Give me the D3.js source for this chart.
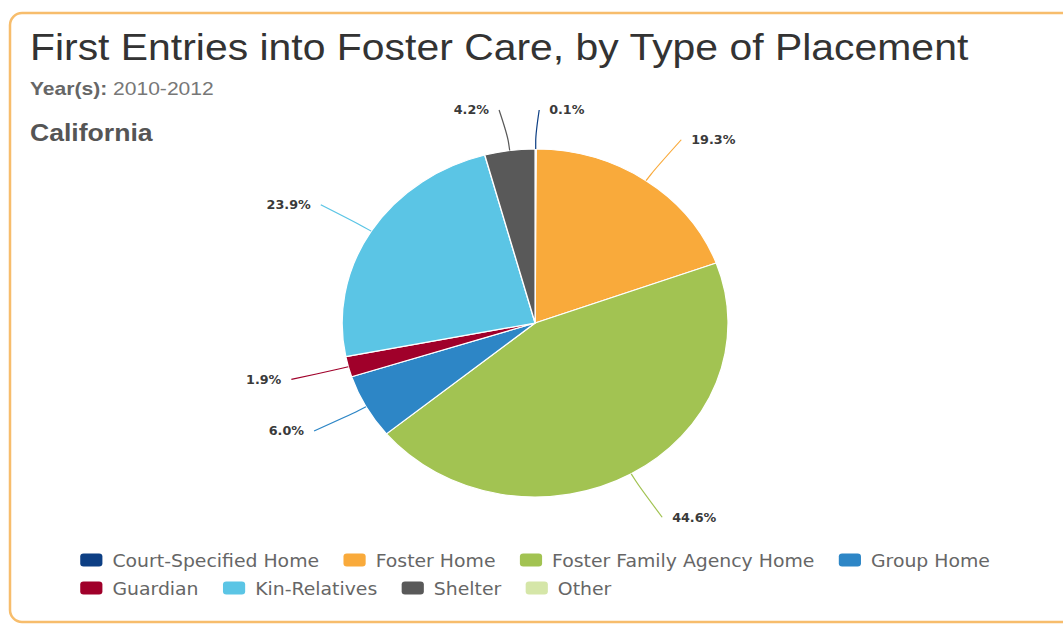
<!DOCTYPE html>
<html>
<head>
<meta charset="utf-8">
<script src="https://cdn.jsdelivr.net/npm/d3@7"></script>
<style>
  html, body { margin: 0; padding: 0; background: #fff; }
  svg { display: block; }
</style>
</head>
<body>
<svg id="chart" width="1063" height="627"></svg>
<script>
// Placement categories and their share of first entries (percent)
const categories = ["Court-Specified Home", "Foster Home", "Foster Family Agency Home", "Group Home",
                    "Guardian", "Kin-Relatives", "Shelter", "Other"];
const shares = [0.1, 19.3, 44.6, 6.0, 1.9, 23.9, 4.2, 0.0];
const colors = ["#0d3f84", "#f9aa3b", "#a2c352", "#2d86c6", "#a0002a", "#5bc5e5", "#595959", "#d5e6a8"];

const titleText = "First Entries into Foster Care, by Type of Placement";
const yearsLabel = "Year(s):";
const yearsValue = "2010-2012";
const regionName = "California";

const W = 1063, H = 627;
const stretch = 1.109;          // horizontal stretch applied to the whole drawing
const cx = 482.5, cy = 323, r = 174;

const svg = d3.select("#chart");

// panel frame
svg.append("rect")
  .attr("x", 10).attr("y", 13)
  .attr("width", 1080).attr("height", 609)
  .attr("rx", 12).attr("ry", 12)
  .attr("fill", "#fff")
  .attr("stroke", "#f7bd6c")
  .attr("stroke-width", 2.5);

const g = svg.append("g").attr("transform", `scale(${stretch},1)`);

// headings
g.append("text")
  .attr("x", 27).attr("y", 60)
  .attr("font-family", "Liberation Sans, Arial, sans-serif")
  .attr("font-size", 36.9)
  .attr("fill", "#333")
  .text(titleText);

const yr = g.append("text")
  .attr("x", 27).attr("y", 95)
  .attr("font-family", "Liberation Sans, Arial, sans-serif")
  .attr("font-size", 19);
yr.append("tspan").attr("font-weight", "bold").attr("fill", "#666").text(yearsLabel);
yr.append("tspan").attr("fill", "#777").text(" " + yearsValue);

g.append("text")
  .attr("x", 27).attr("y", 141)
  .attr("font-family", "Liberation Sans, Arial, sans-serif")
  .attr("font-size", 24)
  .attr("font-weight", "bold")
  .attr("fill", "#555")
  .text(regionName);

// pie
const data = categories.map((c, i) => ({ name: c, value: shares[i], color: colors[i] }));
const pie = d3.pie().sort(null).value(d => d.value).startAngle(0).endAngle(2 * Math.PI);
const arcs = pie(data);
const arc = d3.arc().innerRadius(0).outerRadius(r);

const pg = g.append("g").attr("transform", `translate(${cx},${cy})`);
pg.selectAll("path.slice")
  .data(arcs.filter(a => a.data.value > 0))
  .join("path")
  .attr("class", "slice")
  .attr("d", arc)
  .attr("fill", d => d.data.color)
  .attr("stroke", "#fff")
  .attr("stroke-width", 1.2)
  .attr("stroke-linejoin", "round");

// data labels with soft connectors
const labelRadius = 224, breakGap = 8, topLimit = 110;
const fmt = d3.format(".1f");
arcs.filter(a => a.data.value > 0).forEach(a => {
  const th = (a.startAngle + a.endAngle) / 2;
  const s = Math.sin(th), c = Math.cos(th);
  const edge = [cx + r * s, cy - r * c];
  const brk = [cx + (r + breakGap) * s, cy - (r + breakGap) * c];
  const ctrl = [2 * brk[0] - edge[0], 2 * brk[1] - edge[1]];
  const right = s >= 0;
  const lx = cx + labelRadius * s + (right ? 3 : -3);
  const ly = Math.max(topLimit, cy - labelRadius * c);
  g.append("path")
    .attr("d", `M${lx},${ly}C${lx},${ly} ${ctrl[0]},${ctrl[1]} ${brk[0]},${brk[1]}L${edge[0]},${edge[1]}`)
    .attr("fill", "none")
    .attr("stroke", a.data.color)
    .attr("stroke-width", 1.1);
  g.append("text")
    .attr("x", lx + (right ? 9 : -9))
    .attr("y", ly + 4.5)
    .attr("text-anchor", right ? "start" : "end")
    .attr("font-family", "DejaVu Sans, Verdana, sans-serif")
    .attr("font-size", 11.5)
    .attr("font-weight", "bold")
    .attr("fill", "#3a3a3a")
    .text(fmt(a.data.value) + "%");
});

// legend, flowed into rows and centred under the pie
const legFont = 17, symW = 20, symH = 13, symGap = 9, itemGap = 22, rowH = 28, maxRow = 900;
const lg = g.append("g");
const items = data.map(d => {
  const t = lg.append("text")
    .attr("font-family", "DejaVu Sans, Verdana, sans-serif")
    .attr("font-size", legFont)
    .attr("fill", "#666")
    .text(d.name);
  return { d, t, w: symW + symGap + t.node().getComputedTextLength() };
});
const rows = [];
let cur = [], curW = 0;
items.forEach(it => {
  const add = (cur.length ? itemGap : 0) + it.w;
  if (cur.length && curW + add > maxRow) { rows.push({ items: cur, w: curW }); cur = []; curW = 0; }
  curW += (cur.length ? itemGap : 0) + it.w;
  cur.push(it);
});
if (cur.length) rows.push({ items: cur, w: curW });
const legW = d3.max(rows, rw => rw.w);
const legX = cx - legW / 2;
rows.forEach((rw, ri) => {
  let x = legX;
  const base = 567 + ri * rowH;
  rw.items.forEach(it => {
    lg.append("rect")
      .attr("x", x).attr("y", base - symH - 0.5)
      .attr("width", symW).attr("height", symH)
      .attr("rx", 3).attr("ry", 3)
      .attr("fill", it.d.color);
    it.t.attr("x", x + symW + symGap).attr("y", base);
    x += it.w + itemGap;
  });
});
</script>
</body>
</html>
